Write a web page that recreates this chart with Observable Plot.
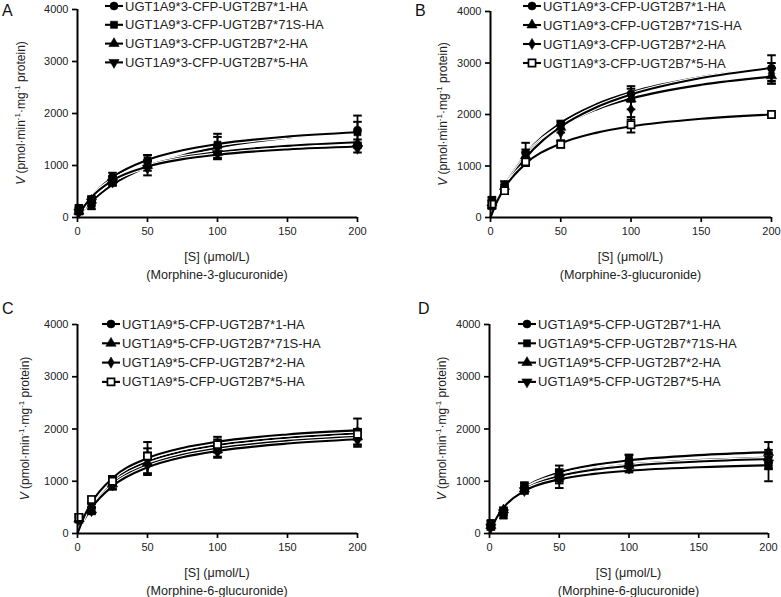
<!DOCTYPE html>
<html><head><meta charset="utf-8">
<script src="https://cdn.jsdelivr.net/npm/d3@7"></script>
<script src="https://cdn.jsdelivr.net/npm/@observablehq/plot@0.6"></script>
<style>
body{margin:0;background:#fff;}
#root{position:relative;width:781px;height:597px;overflow:hidden;font-family:"Liberation Sans",Arial,sans-serif;background:#fff;}
.panel{position:absolute;}
</style></head><body><div id="root"></div>
<script>
// ---------- data ----------
const concentrations = [1, 10, 25, 50, 100, 200];
const fitX = [0, 5, 10, 25, 50, 75, 100, 150, 200];
const xTicks = [0, 50, 100, 150, 200];
const yTicks = [0, 1000, 2000, 3000, 4000];
const panelLetters = ["A", "B", "C", "D"];
const xTitle = "[S] (μmol/L)";
const substrates = ["(Morphine-3-glucuronide)", "(Morphine-3-glucuronide)", "(Morphine-6-glucuronide)", "(Morphine-6-glucuronide)"];

// Panel A
const namesA = ["UGT1A9*3-CFP-UGT2B7*1-HA", "UGT1A9*3-CFP-UGT2B7*71S-HA", "UGT1A9*3-CFP-UGT2B7*2-HA", "UGT1A9*3-CFP-UGT2B7*5-HA"];
const symbolsA = ["circle", "square", "triangle", "triangleDown"];
const meanA = [[180, 350, 780, 1080, 1380, 1680], [150, 240, 700, 1100, 1400, 1640], [120, 330, 720, 1000, 1250, 1420], [100, 300, 680, 950, 1230, 1330]];
const errA = [[60, 60, 80, 120, 230, 280], [50, 80, 90, 100, 150, 200], [50, 60, 70, 100, 130, 80], [40, 70, 60, 140, 100, 80]];
const fitA = [[0, 165, 307, 632, 977, 1194, 1344, 1536, 1654], [0, 227, 406, 773, 1108, 1294, 1413, 1556, 1639], [0, 212, 378, 708, 1000, 1159, 1259, 1378, 1447], [0, 224, 392, 714, 981, 1122, 1208, 1309, 1365]];

// Panel B
const namesB = ["UGT1A9*3-CFP-UGT2B7*1-HA", "UGT1A9*3-CFP-UGT2B7*71S-HA", "UGT1A9*3-CFP-UGT2B7*2-HA", "UGT1A9*3-CFP-UGT2B7*5-HA"];
const symbolsB = ["circle", "triangle", "diamond", "squareOpen"];
const meanB = [[300, 620, 1250, 1800, 2400, 2900], [280, 600, 1200, 1750, 2300, 2750], [250, 560, 1150, 1650, 2100, 2800], [260, 520, 1080, 1420, 1800, 2000]];
const errB = [[100, 80, 200, 80, 150, 250], [100, 100, 120, 100, 200, 150], [80, 80, 120, 150, 200, 200], [80, 60, 80, 60, 150, 30]];
const fitB = [[0, 340, 621, 1233, 1837, 2195, 2432, 2727, 2903], [0, 335, 609, 1196, 1763, 2094, 2310, 2577, 2735], [0, 308, 569, 1156, 1762, 2135, 2387, 2707, 2902], [0, 329, 575, 1045, 1437, 1643, 1769, 1917, 2000]];

// Panel C
const namesC = ["UGT1A9*5-CFP-UGT2B7*1-HA", "UGT1A9*5-CFP-UGT2B7*71S-HA", "UGT1A9*5-CFP-UGT2B7*2-HA", "UGT1A9*5-CFP-UGT2B7*5-HA"];
const symbolsC = ["circle", "triangle", "diamond", "squareOpen"];
const meanC = [[300, 480, 1000, 1450, 1700, 1950], [280, 450, 950, 1350, 1600, 1850], [260, 430, 920, 1300, 1550, 1780], [310, 650, 1000, 1480, 1700, 1900]];
const errC = [[60, 80, 100, 300, 150, 250], [60, 60, 100, 200, 130, 150], [50, 60, 80, 180, 100, 120], [60, 60, 100, 150, 100, 100]];
const fitC = [[0, 314, 550, 1000, 1375, 1571, 1692, 1833, 1913], [0, 292, 512, 943, 1311, 1507, 1629, 1772, 1853], [0, 274, 488, 905, 1265, 1459, 1579, 1721, 1803], [0, 340, 592, 1061, 1442, 1638, 1758, 1896, 1974]];

// Panel D
const namesD = ["UGT1A9*5-CFP-UGT2B7*1-HA", "UGT1A9*5-CFP-UGT2B7*71S-HA", "UGT1A9*5-CFP-UGT2B7*2-HA", "UGT1A9*5-CFP-UGT2B7*5-HA"];
const symbolsD = ["circle", "square", "triangle", "triangleDown"];
const meanD = [[180, 420, 880, 1150, 1400, 1300], [200, 350, 900, 1100, 1430, 1400], [150, 450, 850, 1080, 1300, 1550], [120, 400, 820, 1050, 1250, 1350]];
const errD = [[60, 60, 80, 150, 100, 300], [50, 60, 80, 100, 80, 150], [50, 50, 70, 120, 100, 200], [50, 60, 60, 180, 80, 120]];
const fitD = [[0, 292, 500, 875, 1167, 1313, 1400, 1500, 1556], [0, 289, 491, 844, 1110, 1240, 1317, 1405, 1453], [0, 293, 494, 840, 1097, 1222, 1295, 1378, 1423], [0, 298, 493, 813, 1036, 1141, 1202, 1269, 1306]];

// ---------- layout (styles only) ----------
const layouts = [
  {left: 0, top: 0, width: 390, height: 300, mt: 9, mr: 33, mb: 83, ml: 77, yLabelX: 21, legendX: 105, legendY: 6, legendStep: 18.8, letterX: 2, letterY: 16},
  {left: 390, top: 0, width: 391, height: 300, mt: 11, mr: 10, mb: 83, ml: 100, yLabelX: 53, legendX: 133, legendY: 6, legendStep: 19, letterX: 25, letterY: 16},
  {left: 0, top: 300, width: 390, height: 297, mt: 24, mr: 33, mb: 64, ml: 77, yLabelX: 25, legendX: 102, legendY: 24, legendStep: 19.3, letterX: 2, letterY: 14},
  {left: 390, top: 300, width: 391, height: 297, mt: 24, mr: 13, mb: 64, ml: 99, yLabelX: 52, legendX: 128, legendY: 24, legendStep: 19.3, letterX: 28, letterY: 14}
];

// ---------- symbols ----------
const triangleDown = {
  draw(context, size) {
    const y = -Math.sqrt(size / (Math.sqrt(3) * 3));
    context.moveTo(0, -y * 2);
    context.lineTo(-Math.sqrt(3) * y, y);
    context.lineTo(Math.sqrt(3) * y, y);
    context.closePath();
  }
};
const capSymbol = {
  draw(context, size) {
    const w = Math.sqrt(size / Math.PI);
    context.moveTo(-w, 0);
    context.lineTo(w, 0);
  }
};
function symbolType(name) {
  if (name === "circle") return d3.symbolCircle;
  if (name === "square" || name === "squareOpen") return d3.symbolSquare;
  if (name === "triangle") return d3.symbolTriangle;
  if (name === "diamond") return d3.symbolDiamond;
  if (name === "triangleDown") return triangleDown;
  return d3.symbolCircle;
}
function symbolR(name) {
  if (name === "diamond") return 3.4;
  if (name === "triangle" || name === "triangleDown") return 3.8;
  return 4.0;
}

const FONT = "Liberation Sans, Arial, sans-serif";

function panel(idx, names, symbols, means, errs, fits) {
  const L = layouts[idx];
  const marks = [];
  names.forEach((n, i) => {
    const rows = fitX.map((x, j) => ({x, y: fits[i][j]}));
    marks.push(Plot.line(rows, {x: "x", y: "y", curve: "monotone-x", stroke: "white", strokeWidth: 4.4}));
    marks.push(Plot.line(rows, {x: "x", y: "y", curve: "monotone-x", stroke: "black", strokeWidth: 2.1}));
  });
  names.forEach((n, i) => {
    const rows = concentrations.map((x, j) => ({x, y: means[i][j], lo: means[i][j] - errs[i][j], hi: means[i][j] + errs[i][j]}));
    marks.push(Plot.ruleX(rows, {x: "x", y1: "lo", y2: "hi", stroke: "black", strokeWidth: 1.8}));
    marks.push(Plot.dot(rows, {x: "x", y: "hi", symbol: capSymbol, r: 4.3, stroke: "black", strokeWidth: 2}));
    marks.push(Plot.dot(rows, {x: "x", y: "lo", symbol: capSymbol, r: 4.3, stroke: "black", strokeWidth: 2}));
  });
  names.forEach((n, i) => {
    const rows = concentrations.map((x, j) => ({x, y: means[i][j]}));
    const open = symbols[i] === "squareOpen";
    marks.push(Plot.dot(rows, {x: "x", y: "y", symbol: symbolType(symbols[i]), r: symbolR(symbols[i]),
      fill: open ? "white" : "black", stroke: "black", strokeWidth: open ? 1.7 : 0.6}));
  });
  marks.push(Plot.ruleX([0], {stroke: "black", strokeWidth: 2}));
  marks.push(Plot.ruleY([0], {stroke: "black", strokeWidth: 2}));
  marks.push(Plot.axisX({ticks: xTicks, tickFormat: "d", tickSize: 5, tickPadding: 5, label: null, strokeWidth: 1.7, stroke: "black", fill: "#222", fontSize: 11}));
  marks.push(Plot.axisY({ticks: yTicks, tickFormat: "d", tickSize: 5, tickPadding: 4, label: null, strokeWidth: 1.7, stroke: "black", fill: "#222", fontSize: 11}));

  const svgEl = Plot.plot({
    width: L.width, height: L.height,
    marginTop: L.mt, marginRight: L.mr, marginBottom: L.mb, marginLeft: L.ml,
    x: {domain: [0, 200]},
    y: {domain: [0, 4000]},
    style: {fontFamily: FONT, fontSize: "11px", background: "transparent", overflow: "visible", color: "#222"},
    marks
  });

  const svg = d3.select(svgEl);
  const innerLeft = L.ml, innerRight = L.width - L.mr;
  const axisYpx = L.height - L.mb;
  const cx = (innerLeft + innerRight) / 2;

  // x titles
  svg.append("text").attr("x", cx).attr("y", axisYpx + 40).attr("text-anchor", "middle")
    .attr("dominant-baseline", "central").attr("font-family", FONT).attr("font-size", 12.6).attr("fill", "#222").text(xTitle);
  svg.append("text").attr("x", cx).attr("y", axisYpx + 58).attr("text-anchor", "middle")
    .attr("dominant-baseline", "central").attr("font-family", FONT).attr("font-size", 12.6).attr("fill", "#222").text(substrates[idx]);

  // y title
  const cy = (L.mt + axisYpx) / 2;
  const yt = svg.append("text").attr("transform", `translate(${L.yLabelX},${cy}) rotate(-90)`)
    .attr("text-anchor", "middle").attr("dominant-baseline", "central")
    .attr("font-family", FONT).attr("font-size", 12).attr("fill", "#222");
  yt.append("tspan").attr("font-style", "italic").text("V");
  yt.append("tspan").text(" (pmol·min");
  yt.append("tspan").attr("font-size", 8).attr("dy", -4).text("-1");
  yt.append("tspan").attr("dy", 4).text("·mg");
  yt.append("tspan").attr("font-size", 8).attr("dy", -4).text("-1");
  yt.append("tspan").attr("dy", 4).text(" protein)");

  // panel letter
  svg.append("text").attr("x", L.letterX).attr("y", L.letterY).attr("text-anchor", "start")
    .attr("font-family", FONT).attr("font-size", 16).attr("fill", "#111").text(panelLetters[idx]);

  // legend
  names.forEach((n, i) => {
    const y = L.legendY + i * L.legendStep;
    const g = svg.append("g");
    g.append("line").attr("x1", L.legendX).attr("x2", L.legendX + 18).attr("y1", y).attr("y2", y)
      .attr("stroke", "black").attr("stroke-width", 2.1);
    const open = symbols[i] === "squareOpen";
    const r = symbolR(symbols[i]);
    g.append("path").attr("transform", `translate(${L.legendX + 9},${y})`)
      .attr("d", d3.symbol(symbolType(symbols[i]), Math.PI * r * r)())
      .attr("fill", open ? "white" : "black").attr("stroke", "black").attr("stroke-width", open ? 1.7 : 0.6);
    g.append("text").attr("x", L.legendX + 20).attr("y", y).attr("text-anchor", "start").attr("dominant-baseline", "central")
      .attr("font-family", FONT).attr("font-size", 13).attr("fill", "#222").text(n);
  });

  const div = document.createElement("div");
  div.className = "panel";
  div.style.left = L.left + "px";
  div.style.top = L.top + "px";
  div.appendChild(svgEl);
  document.getElementById("root").appendChild(div);
}

panel(0, namesA, symbolsA, meanA, errA, fitA);
panel(1, namesB, symbolsB, meanB, errB, fitB);
panel(2, namesC, symbolsC, meanC, errC, fitC);
panel(3, namesD, symbolsD, meanD, errD, fitD);
</script>
</body></html>
